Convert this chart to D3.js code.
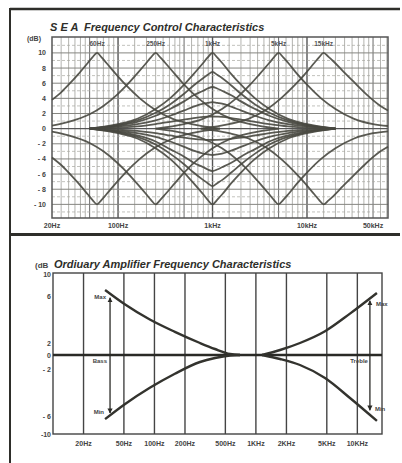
<!DOCTYPE html>
<html><head><meta charset="utf-8">
<script src="https://cdn.jsdelivr.net/npm/d3@7"></script>
<style>
html,body{margin:0;padding:0;background:#fff;}
svg{display:block;}
text{font-family:"Liberation Sans",Arial,sans-serif;}
</style></head>
<body>
<svg id="c" width="402" height="463"></svg>
<script>
// ---------- TOP PANEL DATA ----------
const topTitle = "S E A  Frequency Control Characteristics";
const topYTicks = [10, 8, 6, 4, 2, 0, -2, -4, -6, -8, -10];
const topYTickLabels = ["10", "8", "6", "4", "2", "0", "- 2", "- 4", "- 6", "- 8", "- 10"];
const topXTicks = [20, 100, 1000, 10000, 50000];
const topXTickLabels = ["20Hz", "100Hz", "1kHz", "10kHz", "50kHz"];
const bandCentres = [60, 250, 1000, 5000, 15000];
const bandLabels = ["60Hz", "250Hz", "1kHz", "5kHz", "15kHz"];

// 60 Hz band
const f60 = [20, 25, 30, 38, 48, 53.5, 60, 67, 75, 95, 120, 170, 240, 380, 600, 1200];
const g60Boost = [3.8, 4.8, 5.8, 7.2, 8.7, 9.4, 10, 9.4, 8.7, 7.2, 5.8, 4.0, 2.6, 1.3, 0.6, 0];
const g60Cut = [-3.8, -4.8, -5.8, -7.2, -8.7, -9.4, -10, -9.4, -8.7, -7.2, -5.8, -4.0, -2.6, -1.3, -0.6, 0];
// 250 Hz band
const f250 = [20, 30, 50, 70, 100, 125, 160, 200, 223, 250, 280, 315, 400, 500, 710, 1000, 1580, 2500, 5000];
const g250Boost = [0.4, 0.9, 1.9, 3.0, 4.6, 5.8, 7.3, 8.7, 9.4, 10, 9.4, 8.7, 7.2, 5.8, 4.0, 2.6, 1.3, 0.6, 0];
const g250Cut = [-0.4, -0.9, -1.9, -3.0, -4.6, -5.8, -7.3, -8.7, -9.4, -10, -9.4, -8.7, -7.2, -5.8, -4.0, -2.6, -1.3, -0.6, 0];
// 1 kHz band (several settings)
const f1k = [50, 100, 160, 250, 355, 500, 630, 800, 890, 1000, 1120, 1260, 1580, 2000, 2820, 4000, 6300, 10000, 20000];
const g1kP10 = [0, 0.6, 1.3, 2.6, 4.0, 5.8, 7.2, 8.7, 9.4, 10, 9.4, 8.7, 7.2, 5.8, 4.0, 2.6, 1.3, 0.6, 0];
const g1kP7 = [0, 0.5, 1.1, 2.1, 3.2, 4.6, 5.7, 6.7, 7.1, 7.5, 7.1, 6.7, 5.7, 4.6, 3.2, 2.1, 1.1, 0.5, 0];
const g1kP5 = [0, 0.4, 0.9, 1.7, 2.6, 3.6, 4.4, 5.0, 5.3, 5.5, 5.3, 5.0, 4.4, 3.6, 2.6, 1.7, 0.9, 0.4, 0];
const g1kP3 = [0, 0.3, 0.6, 1.1, 1.7, 2.4, 2.9, 3.3, 3.4, 3.5, 3.4, 3.3, 2.9, 2.4, 1.7, 1.1, 0.6, 0.3, 0];
const g1kP1 = [0, 0.15, 0.3, 0.6, 0.9, 1.2, 1.4, 1.55, 1.58, 1.6, 1.58, 1.55, 1.4, 1.2, 0.9, 0.6, 0.3, 0.15, 0];
const g1kM1 = [0, -0.15, -0.3, -0.6, -0.9, -1.2, -1.35, -1.45, -1.48, -1.5, -1.48, -1.45, -1.35, -1.2, -0.9, -0.6, -0.3, -0.15, 0];
const g1kM3 = [0, -0.3, -0.6, -1.1, -1.7, -2.4, -2.9, -3.3, -3.4, -3.5, -3.4, -3.3, -2.9, -2.4, -1.7, -1.1, -0.6, -0.3, 0];
const g1kM5 = [0, -0.4, -0.9, -1.7, -2.7, -3.7, -4.5, -5.1, -5.4, -5.6, -5.4, -5.1, -4.5, -3.7, -2.7, -1.7, -0.9, -0.4, 0];
const g1kM7 = [0, -0.5, -1.1, -2.1, -3.3, -4.7, -5.8, -6.8, -7.2, -7.6, -7.2, -6.8, -5.8, -4.7, -3.3, -2.1, -1.1, -0.5, 0];
const g1kM10 = [0, -0.6, -1.3, -2.6, -4.0, -5.8, -7.2, -8.7, -9.4, -10, -9.4, -8.7, -7.2, -5.8, -4.0, -2.6, -1.3, -0.6, 0];
// 5 kHz band
const f5k = [250, 500, 790, 1260, 1780, 2500, 3150, 4000, 4460, 5000, 5610, 6300, 7900, 10000, 14100, 20000, 31500, 50000, 72000];
const g5kBoost = [0, 0.6, 1.3, 2.6, 4.0, 5.8, 7.2, 8.7, 9.4, 10, 9.4, 8.7, 7.2, 5.8, 4.0, 2.6, 1.3, 0.6, 0.35];
const g5kCut = [0, -0.6, -1.3, -2.6, -4.0, -5.8, -7.2, -8.7, -9.4, -10, -9.4, -8.7, -7.2, -5.8, -4.0, -2.6, -1.3, -0.6, -0.35];
// 15 kHz band
const f15k = [750, 1500, 2400, 3800, 5300, 7500, 9500, 12000, 13400, 15000, 16800, 19000, 24000, 30000, 42000, 60000, 72000];
const g15kBoost = [0, 0.6, 1.3, 2.6, 4.0, 5.8, 7.2, 8.7, 9.4, 10, 9.5, 8.9, 7.6, 6.4, 4.6, 3.0, 2.4];
const g15kCut = [0, -0.6, -1.3, -2.6, -4.0, -5.8, -7.2, -8.7, -9.4, -10, -9.5, -8.9, -7.6, -6.4, -4.6, -3.0, -2.4];

// ---------- BOTTOM PANEL DATA ----------
const botTitle = "Ordiuary Amplifier Frequency Characteristics";
const botYTicks = [10, 6, 2, 0, -2, -6, -10];
const botYTickLabels = ["10", "6", "2", "0", "- 2", "- 6", "-10"];
const botXTicks = [20, 50, 100, 200, 500, 1000, 2000, 5000, 10000];
const botXTickLabels = ["20Hz", "50Hz", "100Hz", "200Hz", "500Hz", "1KHz", "2KHz", "5KHz", "10KHz"];
const bassFreqs = [32.6, 51, 90, 159, 281, 395, 555, 697];
const bassMax = [7.1, 5.3, 4.0, 2.95, 2.0, 1.0, 0.17, 0];
const bassMin = [-6.7, -5.0, -3.6, -2.4, -1.0, -0.43, -0.07, 0];
const trebleFreqs = [1150, 1730, 2720, 4800, 8460, 15600];
const trebleMax = [0, 0.83, 2.0, 3.0, 4.5, 6.55];
const trebleMin = [0, -0.57, -1.43, -2.77, -4.47, -7.1];
const arrowFreqs = [36.5, 13300];
const arrowTops = [5.85, 5.6];
const arrowBottoms = [-5.75, -5.5];
const arrowNames = ["Bass", "Treble"];

// ---------- DRAW ----------
const svg = d3.select("#c");
const ink = "#2e2e2a";
const curveCol = "#484840";

// outer borders
svg.append("line").attr("x1", 10).attr("x2", 10).attr("y1", 8).attr("y2", 463).attr("stroke", ink).attr("stroke-width", 2);
svg.append("line").attr("x1", 10).attr("x2", 400).attr("y1", 9).attr("y2", 9).attr("stroke", ink).attr("stroke-width", 2.5);
svg.append("line").attr("x1", 10).attr("x2", 400).attr("y1", 234.5).attr("y2", 234.5).attr("stroke", ink).attr("stroke-width", 3);

// ===== TOP =====
const xT = d3.scaleLog().domain([20, 72000]).range([52, 388]);
const yT = d3.scaleLinear().domain([-11.8, 12.1]).range([218, 37]);
const gT = svg.append("g");

// vertical grid
const mults = [1, 1.5, 2, 2.5, 3, 3.5, 4, 4.5, 5, 6, 7, 8, 9];
const gridV = [];
[10, 100, 1000, 10000].forEach(dec => mults.forEach(m => { const v = dec * m; if (v > 20 && v < 72000) gridV.push({ v, m }); }));
gT.selectAll(".gv").data(gridV).join("line")
  .attr("x1", d => xT(d.v)).attr("x2", d => xT(d.v))
  .attr("y1", yT(12.1)).attr("y2", yT(-11.8))
  .attr("stroke", d => d.m === 1 ? "#555" : (d.m === 5 ? "#777" : "#a0a09a"))
  .attr("stroke-width", d => d.m === 1 ? 1.4 : (d.m === 5 ? 1.1 : 0.8));
// horizontal grid
const hEven = d3.range(-10, 11, 2);
const hOdd = d3.range(-11, 12, 2);
gT.selectAll(".ho").data(hOdd).join("line")
  .attr("x1", 52).attr("x2", 388).attr("y1", d => yT(d)).attr("y2", d => yT(d))
  .attr("stroke", "#a8a8a0").attr("stroke-width", 0.7).attr("stroke-dasharray", "3,2");
gT.selectAll(".he").data(hEven).join("line")
  .attr("x1", 52).attr("x2", 388).attr("y1", d => yT(d)).attr("y2", d => yT(d))
  .attr("stroke", d => d === 0 ? "#555" : "#858580").attr("stroke-width", d => d === 0 ? 1.4 : 1);
// frame
gT.append("rect").attr("x", 52).attr("y", 37).attr("width", 336).attr("height", 181)
  .attr("fill", "none").attr("stroke", "#555").attr("stroke-width", 1.5);

// curves
const topCurves = [
  [f60, g60Boost], [f60, g60Cut], [f250, g250Boost], [f250, g250Cut],
  [f1k, g1kP10], [f1k, g1kP7], [f1k, g1kP5], [f1k, g1kP3], [f1k, g1kP1],
  [f1k, g1kM1], [f1k, g1kM3], [f1k, g1kM5], [f1k, g1kM7], [f1k, g1kM10],
  [f5k, g5kBoost], [f5k, g5kCut], [f15k, g15kBoost], [f15k, g15kCut]
];
const lineT = d3.line().x(d => xT(d[0])).y(d => yT(d[1])).curve(d3.curveMonotoneX);
gT.selectAll(".cv").data(topCurves).join("path")
  .attr("d", d => lineT(d3.zip(d[0], d[1])))
  .attr("fill", "none").attr("stroke", curveCol).attr("stroke-width", 1.8).attr("stroke-opacity", 0.9);

// text
svg.append("text").attr("x", 50).attr("y", 31).attr("font-size", 11).attr("font-weight", "bold")
  .attr("font-style", "italic").attr("fill", ink).attr("xml:space", "preserve").text(topTitle);
svg.append("text").attr("x", 27).attr("y", 41).attr("font-size", 7).attr("font-weight", "bold").attr("fill", "#444").text("(dB)");
svg.selectAll(".yt").data(topYTicks).join("text")
  .attr("x", 46).attr("y", d => yT(d) + 2.5).attr("text-anchor", "end")
  .attr("font-size", 7).attr("font-weight", "bold").attr("fill", "#444")
  .text((d, i) => topYTickLabels[i]);
svg.selectAll(".xt").data(topXTicks).join("text")
  .attr("x", d => xT(d)).attr("y", 228).attr("text-anchor", "middle")
  .attr("font-size", 7).attr("font-weight", "bold").attr("fill", "#444")
  .text((d, i) => topXTickLabels[i]);
svg.selectAll(".bl").data(bandCentres).join("text")
  .attr("x", d => xT(d)).attr("y", 46).attr("text-anchor", "middle")
  .attr("font-size", 6.5).attr("font-weight", "bold").attr("fill", "#555")
  .text((d, i) => bandLabels[i]);

// ===== BOTTOM =====
const xB = d3.scaleLog().domain([10, 17500]).range([53, 382]);
const yB = d3.scaleLinear().domain([-10, -6, -2, 0, 2, 6, 10]).range([434, 416, 369, 355, 343, 296, 274]);
const gB = svg.append("g");
gB.selectAll(".bv").data(botXTicks).join("line")
  .attr("x1", d => xB(d)).attr("x2", d => xB(d)).attr("y1", 273).attr("y2", 434)
  .attr("stroke", "#444").attr("stroke-width", 1.4);
gB.append("rect").attr("x", 53).attr("y", 273).attr("width", 329).attr("height", 161)
  .attr("fill", "none").attr("stroke", "#444").attr("stroke-width", 1.4);
gB.append("line").attr("x1", 53).attr("x2", 382).attr("y1", yB(0)).attr("y2", yB(0))
  .attr("stroke", "#2a2a26").attr("stroke-width", 2.4);

const lineB = d3.line().x(d => xB(d[0])).y(d => yB(d[1])).curve(d3.curveMonotoneX);
const botCurves = [[bassFreqs, bassMax], [bassFreqs, bassMin], [trebleFreqs, trebleMax], [trebleFreqs, trebleMin]];
gB.selectAll(".bc").data(botCurves).join("path")
  .attr("d", d => lineB(d3.zip(d[0], d[1])))
  .attr("fill", "none").attr("stroke", "#33332e").attr("stroke-width", 2.4);

// arrows
const defs = svg.append("defs");
defs.append("marker").attr("id", "ah").attr("viewBox", "0 0 10 10").attr("refX", 9).attr("refY", 5)
  .attr("markerWidth", 4).attr("markerHeight", 5).attr("orient", "auto-start-reverse")
  .append("path").attr("d", "M0,0 L10,5 L0,10 z").attr("fill", "#2a2a26");
gB.selectAll(".ar").data(arrowFreqs).join("line")
  .attr("x1", d => xB(d)).attr("x2", d => xB(d))
  .attr("y1", (d, i) => yB(arrowTops[i])).attr("y2", (d, i) => yB(arrowBottoms[i]))
  .attr("stroke", "#2a2a26").attr("stroke-width", 1.3)
  .attr("marker-start", "url(#ah)").attr("marker-end", "url(#ah)");

const lblStyle = s => s.attr("font-size", 6).attr("font-weight", "bold").attr("fill", "#444");
lblStyle(gB.append("text").attr("x", xB(arrowFreqs[0]) - 4).attr("y", yB(arrowTops[0]) + 1).attr("text-anchor", "end").text("Max"));
lblStyle(gB.append("text").attr("x", xB(arrowFreqs[0]) - 3).attr("y", yB(0) + 8).attr("text-anchor", "end").text(arrowNames[0]));
lblStyle(gB.append("text").attr("x", xB(arrowFreqs[0]) - 6).attr("y", yB(arrowBottoms[0]) + 1).attr("text-anchor", "end").text("Min"));
lblStyle(gB.append("text").attr("x", xB(arrowFreqs[1]) + 6).attr("y", yB(arrowTops[1]) + 5).attr("text-anchor", "start").text("Max"));
lblStyle(gB.append("text").attr("x", xB(arrowFreqs[1]) - 2).attr("y", yB(0) + 8).attr("text-anchor", "end").text(arrowNames[1]));
lblStyle(gB.append("text").attr("x", xB(arrowFreqs[1]) + 5).attr("y", yB(arrowBottoms[1]) + 1).attr("text-anchor", "start").text("Min"));

svg.append("text").attr("x", 35).attr("y", 268).attr("font-size", 8).attr("font-weight", "bold").attr("fill", "#444").text("(dB");
svg.append("text").attr("x", 54).attr("y", 268).attr("font-size", 11).attr("font-weight", "bold")
  .attr("font-style", "italic").attr("fill", ink).text(botTitle);
svg.selectAll(".byt").data(botYTicks).join("text")
  .attr("x", 51).attr("y", d => yB(d) + 2.5).attr("text-anchor", "end")
  .attr("font-size", 7).attr("font-weight", "bold").attr("fill", "#444")
  .text((d, i) => botYTickLabels[i]);
svg.selectAll(".bxt").data(botXTicks).join("text")
  .attr("x", d => xB(d)).attr("y", 446).attr("text-anchor", "middle")
  .attr("font-size", 7).attr("font-weight", "bold").attr("fill", "#444")
  .text((d, i) => botXTickLabels[i]);
</script>
</body></html>
